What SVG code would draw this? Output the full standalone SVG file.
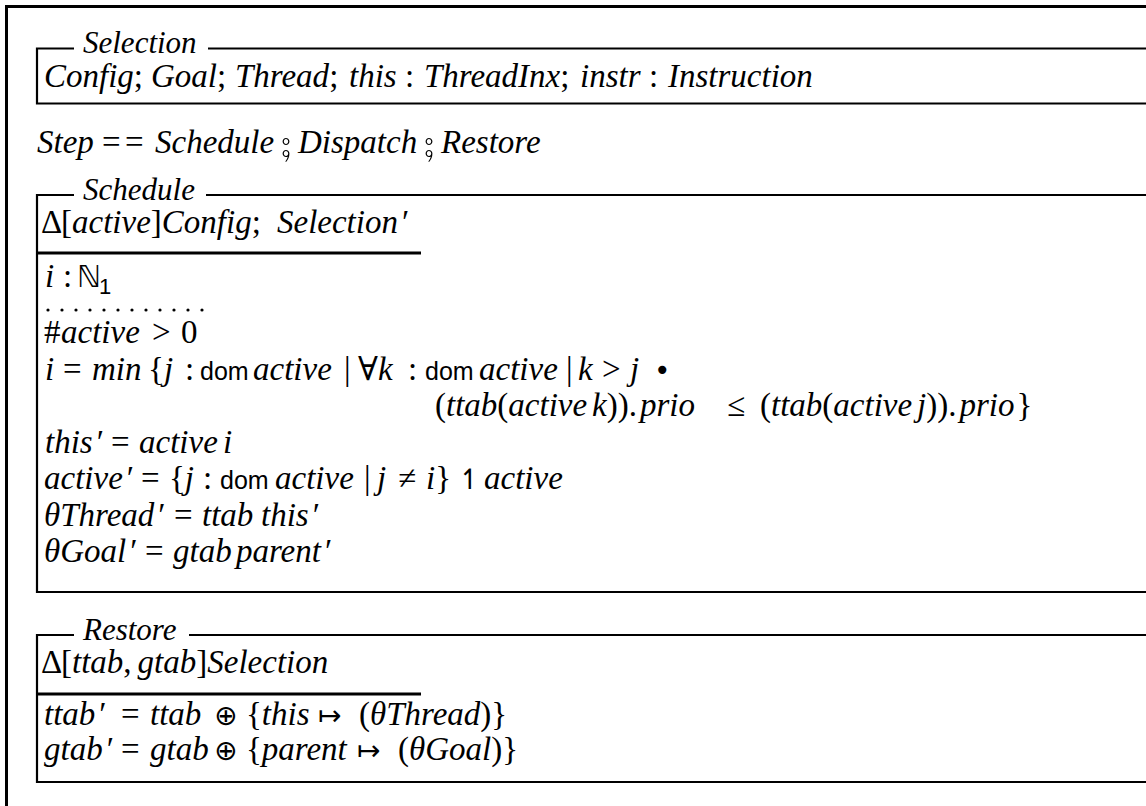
<svg xmlns="http://www.w3.org/2000/svg" width="1146" height="806" viewBox="0 0 1146 806">
  <style>
    .frame { stroke: #000; stroke-width: 3; fill: none; }
    .box { stroke: #000; stroke-width: 2.2; fill: none; }
    .sep { stroke: #000; stroke-width: 2.8; }
    text { font-family: "Liberation Serif", "DejaVu Serif", serif; font-size: 33px; fill: #000; }
    .title { font-size: 31px; font-style: italic; }
    .it { font-style: italic; }
    .up { font-style: normal; }
    .sf { font-family: "Liberation Sans", "DejaVu Sans", sans-serif; font-size: 25px; font-style: normal; }
    .sym { font-family: "DejaVu Sans", "Liberation Sans", sans-serif; font-style: normal; font-size: 28px; }
    .bb { font-family: "DejaVu Sans", sans-serif; font-style: normal; font-size: 30px; }
    .sub { font-family: "Liberation Sans", "DejaVu Sans", sans-serif; font-size: 22px; font-style: normal; }
    .semi { font-family: "DejaVu Sans", sans-serif; font-size: 60px; font-style: normal; }
    .dot { fill: #000; }
  </style>
  <rect width="1146" height="806" fill="#fff"/>

  <!-- page frame, open to the right and bottom -->
  <path class="frame" d="M6.5 806 V6.5 H1146"/>

  <!-- Selection schema -->
  <g id="selection">
    <path class="box" d="M74 48.5 H37 V103.5 H1146 M208 48.5 H1146"/>
    <text class="title" x="83" y="53">Selection</text>
    <text class="it" y="87"><tspan x="44">Config</tspan><tspan class="up">;</tspan><tspan x="151">Goal</tspan><tspan class="up">;</tspan><tspan x="235">Thread</tspan><tspan class="up">;</tspan><tspan x="349">this</tspan><tspan class="up" x="405">:</tspan><tspan x="424">ThreadInx</tspan><tspan class="up">;</tspan><tspan x="580">instr</tspan><tspan class="up" x="649">:</tspan><tspan x="668">Instruction</tspan></text>
  </g>

  <!-- Step as a sequential composition -->
  <g id="step">
    <text class="it" y="153"><tspan x="37">Step</tspan><tspan class="up" x="102">=</tspan><tspan class="up" x="125">=</tspan><tspan x="155">Schedule</tspan><tspan x="298">Dispatch</tspan><tspan x="441">Restore</tspan></text>
    <!-- schema composition operator -->
    <text class="semi" x="286" y="157" text-anchor="middle">⨾</text>
    <text class="semi" x="429" y="157" text-anchor="middle">⨾</text>
  </g>

  <!-- Schedule schema -->
  <g id="schedule">
    <path class="box" d="M74 195 H37 V592 H1146 M206 195 H1146"/>
    <line class="sep" x1="37" y1="253" x2="421" y2="253"/>
    <text class="title" x="83" y="200">Schedule</text>
    <text class="it" y="233"><tspan class="up" x="41">Δ</tspan><tspan class="up" x="61">[</tspan><tspan>active</tspan><tspan class="up">]</tspan><tspan>Config</tspan><tspan class="up">;</tspan><tspan x="277">Selection</tspan><tspan dx="2">′</tspan></text>
    <text class="it" y="287"><tspan x="45">i</tspan><tspan class="up" x="63">:</tspan><tspan class="bb" x="77">ℕ</tspan></text>
    <text class="sub" x="99" y="294">1</text>
    <g id="where-dots">
      <circle class="dot" cx="48" cy="310" r="1.6"/><circle class="dot" cx="62" cy="310" r="1.6"/>
      <circle class="dot" cx="76" cy="310" r="1.6"/><circle class="dot" cx="90" cy="310" r="1.6"/>
      <circle class="dot" cx="104" cy="310" r="1.6"/><circle class="dot" cx="118" cy="310" r="1.6"/>
      <circle class="dot" cx="132" cy="310" r="1.6"/><circle class="dot" cx="146" cy="310" r="1.6"/>
      <circle class="dot" cx="160" cy="310" r="1.6"/><circle class="dot" cx="174" cy="310" r="1.6"/>
      <circle class="dot" cx="188" cy="310" r="1.6"/><circle class="dot" cx="202" cy="310" r="1.6"/>
    </g>
    <text class="it" y="343"><tspan class="up" x="44">#</tspan><tspan x="61">active</tspan><tspan class="up" x="152">&gt;</tspan><tspan class="up" x="181">0</tspan></text>
    <text class="it" y="379.5"><tspan x="45">i</tspan><tspan class="up" x="63">=</tspan><tspan x="92">min</tspan><tspan class="up" x="148">{</tspan><tspan x="164">j</tspan><tspan class="up" x="185">:</tspan><tspan class="sf" x="200">dom</tspan><tspan x="253">active</tspan><tspan class="up" x="344">|</tspan><tspan class="up" x="358">∀</tspan><tspan x="378">k</tspan><tspan class="up" x="408">:</tspan><tspan class="sf" x="425">dom</tspan><tspan x="479">active</tspan><tspan class="up" x="566">|</tspan><tspan x="578">k</tspan><tspan class="up" x="602">&gt;</tspan><tspan x="630">j</tspan><tspan class="sym" x="654" font-size="36">•</tspan></text>
    <text class="it" y="416"><tspan class="up" x="435">(</tspan><tspan x="446">ttab</tspan><tspan class="up">(</tspan><tspan>active</tspan><tspan x="592">k</tspan><tspan class="up">)).</tspan><tspan dx="3">prio</tspan><tspan class="up" x="727">≤</tspan><tspan class="up" x="760">(</tspan><tspan x="771">ttab</tspan><tspan class="up">(</tspan><tspan>active</tspan><tspan x="917">j</tspan><tspan class="up">)).</tspan><tspan dx="3">prio</tspan><tspan class="up" dx="2">}</tspan></text>
    <text class="it" y="452.5"><tspan x="45">this</tspan><tspan dx="2">′</tspan><tspan class="up" x="111">=</tspan><tspan x="139">active</tspan><tspan x="223">i</tspan></text>
    <text class="it" y="489"><tspan x="44">active</tspan><tspan dx="2">′</tspan><tspan class="up" x="141">=</tspan><tspan class="up" x="169">{</tspan><tspan>j</tspan><tspan class="up" x="203">:</tspan><tspan class="sf" x="220">dom</tspan><tspan x="275">active</tspan><tspan class="up" x="364">|</tspan><tspan x="377">j</tspan><tspan class="up" x="398">≠</tspan><tspan x="426">i</tspan><tspan class="up">}</tspan><tspan class="sym" x="458" font-size="32">↿</tspan><tspan x="484">active</tspan></text>
    <text class="it" y="525.5"><tspan x="44">θThread</tspan><tspan dx="2">′</tspan><tspan class="up" x="174">=</tspan><tspan x="202">ttab</tspan><tspan x="261">this</tspan><tspan dx="2">′</tspan></text>
    <text class="it" y="562"><tspan x="44">θGoal</tspan><tspan dx="2">′</tspan><tspan class="up" x="145">=</tspan><tspan x="173">gtab</tspan><tspan x="236">parent</tspan><tspan dx="2">′</tspan></text>
  </g>

  <!-- Restore schema -->
  <g id="restore">
    <path class="box" d="M74 635 H37 V782 H1146 M189 635 H1146"/>
    <line class="sep" x1="37" y1="694" x2="421" y2="694"/>
    <text class="title" x="83" y="640">Restore</text>
    <text class="it" y="673"><tspan class="up" x="41">Δ</tspan><tspan class="up" x="61">[</tspan><tspan>ttab</tspan><tspan class="up">,</tspan><tspan dx="6">gtab</tspan><tspan class="up">]</tspan><tspan>Selection</tspan></text>
    <text class="it" y="725"><tspan x="44">ttab</tspan><tspan dx="2">′</tspan><tspan class="up" x="121">=</tspan><tspan x="150">ttab</tspan><tspan class="sym" x="214" font-size="34">⊕</tspan><tspan class="up" x="246">{</tspan><tspan>this</tspan><tspan class="sym" x="318" font-size="33">↦</tspan><tspan class="up" x="359">(</tspan><tspan>θThread</tspan><tspan class="up">)}</tspan></text>
    <text class="it" y="760"><tspan x="44">gtab</tspan><tspan dx="2">′</tspan><tspan class="up" x="121">=</tspan><tspan x="150">gtab</tspan><tspan class="sym" x="214" font-size="34">⊕</tspan><tspan class="up" x="246">{</tspan><tspan>parent</tspan><tspan class="sym" x="357" font-size="33">↦</tspan><tspan class="up" x="398">(</tspan><tspan>θGoal</tspan><tspan class="up">)}</tspan></text>
  </g>
</svg>
